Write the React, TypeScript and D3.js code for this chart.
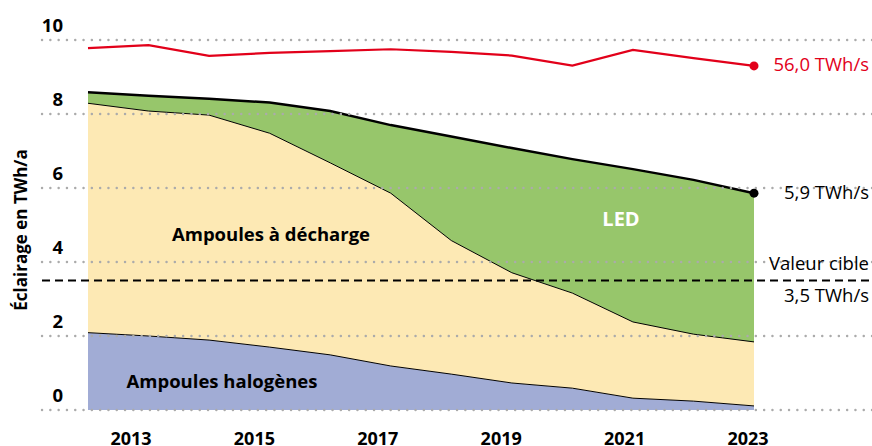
import React from 'react';
import * as d3 from 'd3';

// lighting consumption, TWh/a
const years = [2012, 2013, 2014, 2015, 2016, 2017, 2018, 2019, 2020, 2021, 2022, 2023];
const halogen = [2.09, 2.0, 1.89, 1.7, 1.49, 1.19, 0.97, 0.73, 0.59, 0.32, 0.24, 0.11];
const discharge = [6.2, 6.08, 6.08, 5.78, 5.19, 4.67, 3.61, 2.98, 2.57, 2.06, 1.81, 1.73];
const led = [0.3, 0.41, 0.44, 0.83, 1.4, 1.84, 2.81, 3.37, 3.62, 4.13, 4.17, 4.02];
// total consumption (red), drawn on the same axis (scaled /6)
const totalScaled = [9.78, 9.86, 9.57, 9.65, 9.7, 9.75, 9.68, 9.58, 9.31, 9.73, 9.51, 9.3];
const target = 3.5;
const yTicks = [0, 2, 4, 6, 8, 10];
const xTickYears = [2013, 2015, 2017, 2019, 2021, 2023];

const W = 872;
const H = 446;
const FONT = '"Open Sans", Lato, sans-serif';

export default function App() {
  const x = d3.scaleLinear().domain([2012, 2023]).range([88, 754]);
  // year labels sit on a slightly different grid than the data points
  const xLab = d3.scaleLinear().domain([2013, 2023]).range([131, 748]);
  const y = d3.scaleLinear().domain([0, 10]).range([410, 40]);

  const rows = years.map((yr, i) => ({
    year: yr,
    halogen: halogen[i],
    discharge: discharge[i],
    led: led[i],
  }));
  const stack = d3.stack<any>().keys(['halogen', 'discharge', 'led'])(rows);
  const colors = ['#a1acd5', '#fde9b4', '#97c66b'];

  const area = d3
    .area<any>()
    .x(d => x(d.data.year))
    .y0(d => y(d[0]))
    .y1(d => y(d[1]));
  const topLine = d3
    .line<any>()
    .x(d => x(d.data.year))
    .y(d => y(d[1]));
  const redLine = d3
    .line<number>()
    .x((d, i) => x(years[i]))
    .y(d => y(d));

  const last = years.length - 1;
  const totalLast = stack[2][last][1];

  return (
    <svg
      width={W}
      height={H}
      style={{position: 'absolute', left: 0, top: 0, fontFamily: FONT}}
    >
      {stack.map((s, i) => (
        <path key={i} d={area(s) || ''} fill={colors[i]} />
      ))}
      <path d={topLine(stack[0]) || ''} fill="none" stroke="#000" strokeWidth={1} />
      <path d={topLine(stack[1]) || ''} fill="none" stroke="#000" strokeWidth={1} />
      <path d={topLine(stack[2]) || ''} fill="none" stroke="#000" strokeWidth={2.5} />

      {/* dotted grid */}
      {yTicks.map(t => (
        <g key={t}>
          <line
            x1={42}
            x2={W}
            y1={y(t)}
            y2={y(t)}
            stroke="#ababab"
            strokeWidth={2.4}
            strokeDasharray="0.1 8.2"
            strokeLinecap="round"
          />
          <text
            x={63}
            y={y(t) - 8}
            textAnchor="end"
            fontSize={18.5}
            fontWeight={700}
          >
            {t}
          </text>
        </g>
      ))}

      {/* target line */}
      <line
        x1={42}
        x2={W}
        y1={y(target)}
        y2={y(target)}
        stroke="#000"
        strokeWidth={2}
        strokeDasharray="8 5"
      />

      <path d={redLine(totalScaled) || ''} fill="none" stroke="#e2001a" strokeWidth={2.2} />
      <circle cx={x(years[last])} cy={y(totalScaled[last])} r={4.5} fill="#e2001a" />
      <circle cx={x(years[last])} cy={y(totalLast)} r={4.5} fill="#000" />

      {xTickYears.map(yr => (
        <text
          key={yr}
          x={xLab(yr)}
          y={445}
          textAnchor="middle"
          fontSize={18}
          fontWeight={700}
        >
          {yr}
        </text>
      ))}

      <text
        transform={`translate(27,230) rotate(-90)`}
        textAnchor="middle"
        fontSize={17}
        fontWeight={700}
      >
        Éclairage en TWh/a
      </text>

      <text x={271} y={241} textAnchor="middle" fontSize={18.5} fontWeight={700}>
        Ampoules à décharge
      </text>
      <text x={222} y={388} textAnchor="middle" fontSize={18.5} fontWeight={700}>
        Ampoules halogènes
      </text>
      <text x={621} y={226} textAnchor="middle" fontSize={20} fontWeight={700} fill="#fff">
        LED
      </text>

      <text x={869} y={71} textAnchor="end" fontSize={18.5} fill="#e2001a">
        56,0 TWh/s
      </text>
      <text x={869} y={199} textAnchor="end" fontSize={18.5}>
        5,9 TWh/s
      </text>
      <text x={869} y={270} textAnchor="end" fontSize={18.5}>
        Valeur cible
      </text>
      <text x={869} y={302} textAnchor="end" fontSize={18.5}>
        3,5 TWh/s
      </text>
    </svg>
  );
}
